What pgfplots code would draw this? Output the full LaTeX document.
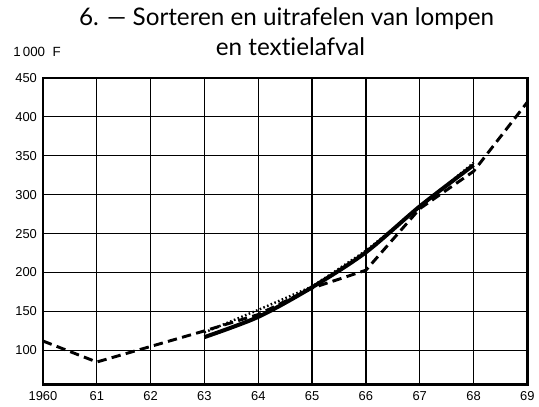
\documentclass[border=0pt]{standalone}
\usepackage{fontspec}
\setmainfont{Liberation Sans}
\newfontfamily\titlefont[Ligatures={TeX,NoCommon}]{Lato}
\usepackage{pgfplots}
\pgfplotsset{compat=1.18}

\begin{document}
\begin{tikzpicture}
\begin{axis}[
    name=ax,
    scale only axis,
    width=363.75pt, height=230.25pt,
    xmin=1960, xmax=1969,
    ymin=56, ymax=450,
    xtick={1960,...,1969},
    xticklabels={1960,61,62,63,64,65,66,67,68,69},
    ytick={100,150,...,450},
    grid=major,
    major grid style={black, line width=0.9pt},
    major tick length=0pt,
    axis line style={black, line width=2pt},
    ticklabel style={font=\fontsize{9.7}{11}\selectfont},
    /pgf/number format/assume math mode=true,
    /pgf/number format/1000 sep={},
    xticklabel style={yshift=-2pt},
    yticklabel style={xshift=-1pt},
    clip=false,
]
% gestreept
\addplot[black, line width=2.2pt, dash pattern=on 7pt off 4pt] coordinates {
    (1960,112) (1961,85) (1962,105) (1963,125) (1964,146)
    (1965,180) (1966,203) (1967,282) (1968,330) (1969,419)
};
% getrokken
\addplot[black, line width=3pt, smooth] coordinates {
    (1963,117) (1964,143) (1965,181) (1966,226) (1967,285) (1968,338)
};
% gestippeld
\addplot[black, line width=1.8pt, dash pattern=on 1.2pt off 1.8pt] coordinates {
    (1963,123) (1964,152) (1965,182) (1966,228) (1967,284) (1968,341)
};
\node[font=\fontsize{10}{12}\selectfont, anchor=base] at ([xshift=-4.5pt,yshift=16pt]rel axis cs:0,1) {1\,000\ \ F};
\node[font=\titlefont\fontsize{18.2}{20}\selectfont, anchor=base] at ([yshift=39.5pt]rel axis cs:0.503,1) {6. --- Sorteren en uitrafelen van lompen};
\node[font=\titlefont\fontsize{18.2}{20}\selectfont, anchor=base] at ([yshift=16.5pt]rel axis cs:0.511,1) {en textielafval};
\end{axis}
\path ([xshift=-32.25pt,yshift=-16.5pt]ax.south west) rectangle ([xshift=8.25pt,yshift=58.5pt]ax.north east);
\end{tikzpicture}
\end{document}
